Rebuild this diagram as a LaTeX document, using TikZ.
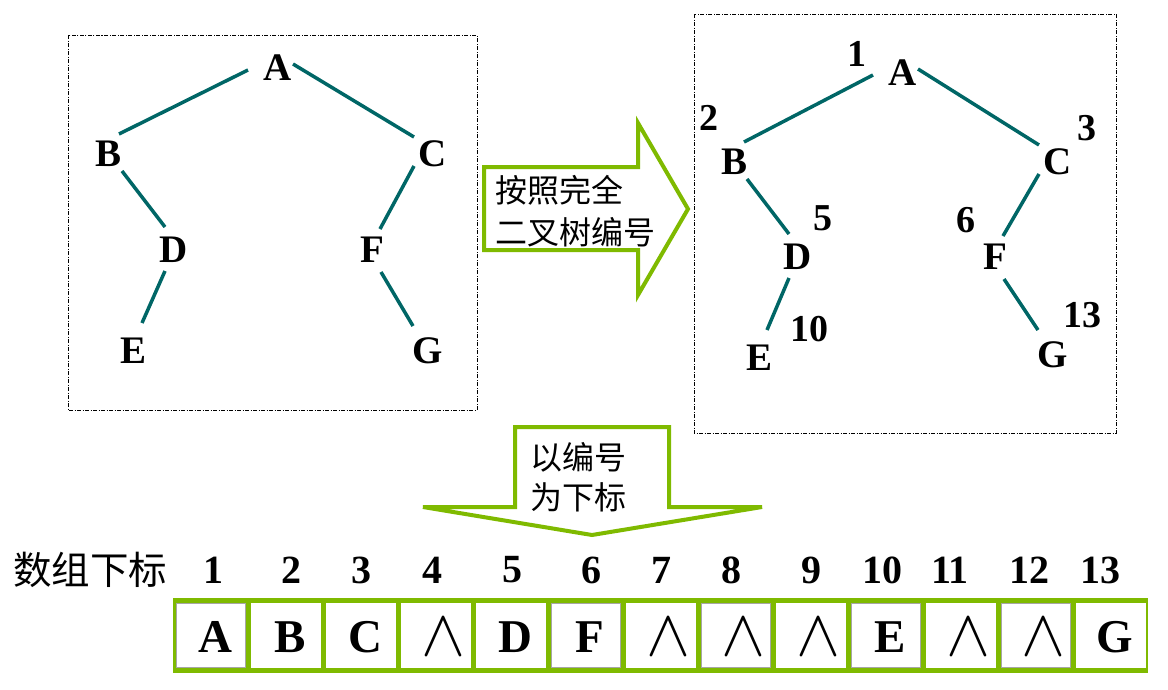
\RequirePackage{fix-cm}
\documentclass[tikz,border=0pt]{standalone}
\usepackage{fontspec}
\setmainfont{Liberation Serif}
\newfontfamily\cjk{Noto Sans CJK SC}
\definecolor{arrowgreen}{RGB}{127,186,0}
\definecolor{edgeteal}{RGB}{0,102,102}
\begin{document}
\begin{tikzpicture}[x=1pt,y=-1pt,
  tnode/.style={inner sep=0pt,font=\fontsize{39}{39}\selectfont\bfseries},
  numlbl/.style={inner sep=0pt,font=\fontsize{38}{38}\selectfont\bfseries},
  edge/.style={draw=edgeteal,line width=3.5pt},
  dbox/.style={draw=black,line width=0.8pt,dash pattern=on 4pt off 1.5pt on 1pt off 1.5pt},
  bigarrow/.style={draw=arrowgreen,line width=4pt,fill=white,line join=miter},
  cjktext/.style={inner sep=0pt,anchor=west,font=\cjk\fontsize{32}{32}\selectfont},
  idx/.style={inner sep=0pt,font=\fontsize{40}{40}\selectfont\bfseries},
  cell/.style={inner sep=0pt,font=\fontsize{47}{47}\selectfont\bfseries},
  wedgecell/.style={inner sep=0pt,font=\fontsize{66}{66}\selectfont},
  grayedge/.style={draw=gray!70,line width=1pt},
]
\useasboundingbox (0,0) rectangle (1168,689);

% ---------- left tree ----------
\draw[dbox] (68,35) rectangle (477,410);
\node[tnode] (lA) at (278,68) {A};
\node[tnode] (lB) at (109,154) {B};
\node[tnode] (lC) at (433,154) {C};
\node[tnode] (lD) at (174,250) {D};
\node[tnode] (lF) at (372,250) {F};
\node[tnode] (lE) at (134,351) {E};
\node[tnode] (lG) at (428,351) {G};
\draw[edge] ([shift={(-30,2)}]lA.center) -- ([shift={(10,-20)}]lB.center);
\draw[edge] ([shift={(15,-4)}]lA.center) -- ([shift={(-19,-17)}]lC.center);
\draw[edge] ([shift={(13,17)}]lB.center) -- ([shift={(-9,-23)}]lD.center);
\draw[edge] ([shift={(-19,12)}]lC.center) -- ([shift={(8,-21)}]lF.center);
\draw[edge] ([shift={(-9,21)}]lD.center) -- ([shift={(8,-28)}]lE.center);
\draw[edge] ([shift={(9,22)}]lF.center) -- ([shift={(-15,-25)}]lG.center);

% ---------- right tree ----------
\draw[dbox] (694,14) rectangle (1116,433);
\node[tnode] (rA) at (903,73) {A};
\node[tnode] (rB) at (734,162) {B};
\node[tnode] (rC) at (1058,162) {C};
\node[tnode] (rD) at (798,257) {D};
\node[tnode] (rF) at (995,257) {F};
\node[tnode] (rE) at (759,358) {E};
\node[tnode] (rG) at (1053,355) {G};
\draw[edge] ([shift={(-30,2)}]rA.center) -- ([shift={(10,-20)}]rB.center);
\draw[edge] ([shift={(15,-4)}]rA.center) -- ([shift={(-19,-17)}]rC.center);
\draw[edge] ([shift={(13,17)}]rB.center) -- ([shift={(-9,-23)}]rD.center);
\draw[edge] ([shift={(-19,12)}]rC.center) -- ([shift={(8,-21)}]rF.center);
\draw[edge] ([shift={(-9,21)}]rD.center) -- ([shift={(8,-28)}]rE.center);
\draw[edge] ([shift={(9,22)}]rF.center) -- ([shift={(-15,-25)}]rG.center);
\node[numlbl] (n1) at (857,54) {1};
\node[numlbl] (n2) at (709,118) {2};
\node[numlbl] (n3) at (1087,128) {3};
\node[numlbl] (n5) at (823,218) {5};
\node[numlbl] (n6) at (966,220) {6};
\node[numlbl] (n10) at (809,329) {10};
\node[numlbl] (n13) at (1082,315) {13};

% ---------- block arrows ----------
\draw[bigarrow] (484,167) -- (638,167) -- (638,123) -- (688,209) -- (638,295) -- (638,250) -- (484,250) -- cycle;
\node[cjktext] (t1) at (495,190) {按照完全};
\node[cjktext] (t2) at (495,232) {二叉树编号};

\draw[bigarrow] (515,427) -- (669,427) -- (669,507) -- (762,507) -- (592,535) -- (423,507) -- (515,507) -- cycle;
\node[cjktext] (t3) at (530,457) {以编号};
\node[cjktext] (t4) at (530,497) {为下标};

% ---------- array ----------
\node[inner sep=0pt,anchor=west,font=\cjk\fontsize{38.5}{38.5}\selectfont] (lbl) at (13,570) {数组下标};
\foreach \n/\x in {1/213,2/291,3/361,4/432,5/512,6/591,7/661,8/731,9/811,10/882,11/950,12/1029,13/1100}
  \node[idx] (i\n) at (\x,570) {\n};

\fill[arrowgreen] (173,598) rectangle (1148,673);
\foreach \i in {0,...,12}
  \fill[white] ({173+75*\i+2.5},603) rectangle ({173+75*\i+72.5},668);
\foreach \i in {0,5,7,9,11}
  \draw[grayedge] ({173+75*\i+3},603.5) rectangle ({173+75*\i+72},667.5);

\foreach \n/\t in {1/A,2/B,3/C,5/D,6/F,10/E,13/G}
  \node[cell] (c\n) at ({173+75*(\n-1)+42},637) {\t};
\foreach \n in {4,7,8,9,11,12}
  \node[wedgecell] (c\n) at ({173+75*(\n-1)+45},637) {$\wedge$};
\end{tikzpicture}
\end{document}
